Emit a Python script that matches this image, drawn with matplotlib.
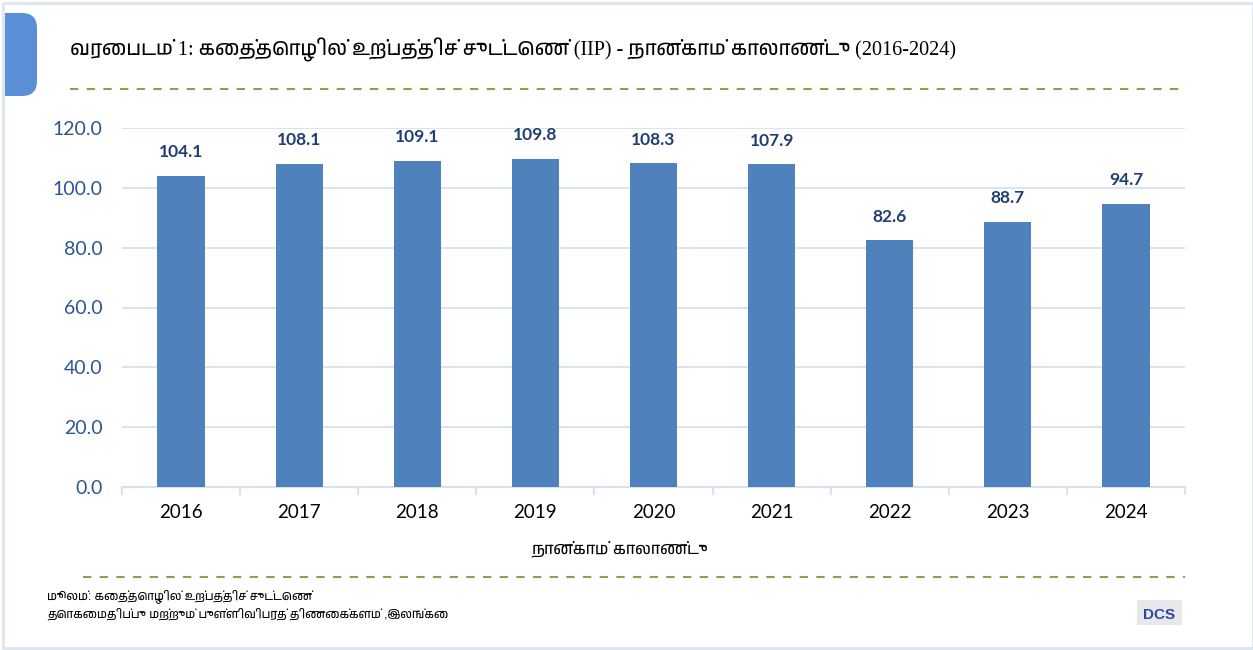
import matplotlib
matplotlib.use("Agg")
import matplotlib.pyplot as plt
from matplotlib import font_manager
from matplotlib.ft2font import FT2Font
from matplotlib.patches import FancyBboxPatch, Rectangle
from matplotlib.lines import Line2D

# Données
years = ["2016", "2017", "2018", "2019", "2020", "2021", "2022", "2023", "2024"]
iip = [104.1, 108.1, 109.1, 109.8, 108.3, 107.9, 82.6, 88.7, 94.7]
y_ticks = [0, 20, 40, 60, 80, 100, 120]

title = "வரைபடம் 1: கைத்தொழில் உற்பத்திச் சுட்டெண் (IIP) - நான்காம் காலாண்டு (2016-2024)"
x_label = "நான்காம் காலாண்டு"
source_1 = "மூலம்: கைத்தொழில் உற்பத்திச் சுட்டெண்"
source_2 = "தொகைமதிப்பு மற்றும் புள்ளிவிபரத் திணைக்களம் ,இலங்கை"

# Couleurs
bar_color = "#4F81BD"
grid_color = "#D6E2F0"
dash_color = "#8AA052"
ytick_color = "#2A5592"
label_color = "#1F3F73"


def tamil_family():
    # cherche une police avec les glyphes tamouls (pas mono de préférence)
    found = []
    for f in font_manager.fontManager.ttflist:
        try:
            if 0x0BB5 in FT2Font(f.fname).get_charmap():
                found.append(f.name)
        except Exception:
            pass
    if not found:
        return None
    found.sort(key=lambda n: ("Mono" in n, "Tamil" not in n, n))
    return found[0]


tam = tamil_family()
serif_fam = ["Liberation Serif", tam] if tam else ["Liberation Serif", "DejaVu Sans"]
sans_fam = ["Liberation Sans", tam] if tam else ["Liberation Sans", "DejaVu Sans"]

W, H = 1253, 650
fig = plt.figure(figsize=(W / 100, H / 100), dpi=100)


def fx(px):
    return px / W


def fy(py):
    return 1 - py / H


# cadre et onglet
fig.patches.append(Rectangle((fx(3), fy(H - 2)), fx(W - 3), fy(3) - fy(H - 2),
                             transform=fig.transFigure, fill=False,
                             edgecolor="#DCE6F2", lw=2))
fig.patches.append(FancyBboxPatch((fx(5), fy(96)), fx(32), fy(13) - fy(96),
                                  boxstyle="round,pad=0,rounding_size=0.012",
                                  transform=fig.transFigure,
                                  facecolor="#5A8FD6", edgecolor="none",
                                  mutation_aspect=W / H))
fig.patches.append(Rectangle((fx(5), fy(96)), fx(14), fy(13) - fy(96),
                             transform=fig.transFigure,
                             facecolor="#5A8FD6", edgecolor="none"))

fig.text(fx(70), fy(50), title, fontsize=14.5, family=serif_fam,
         va="center", ha="left", color="black")

for yy, x0 in [(89, 70), (577, 83)]:
    fig.lines.append(Line2D([fx(x0), fx(1185)], [fy(yy), fy(yy)],
                            transform=fig.transFigure, color=dash_color,
                            lw=1.5, linestyle=(0, (4, 4))))

ax = fig.add_axes([fx(122), fy(487), fx(1185) - fx(122), fy(128) - fy(487)])
x = list(range(len(years)))
bars = ax.bar(x, iip, width=0.4, color=bar_color, zorder=3)
ax.set_xlim(-0.5, len(years) - 0.5)
ax.set_ylim(0, 120)
ax.set_yticks(y_ticks)
ax.set_yticklabels([f"{v:.1f}" for v in y_ticks], fontsize=14,
                   family="Lato", color=ytick_color)
ax.set_xticks(x)
ax.set_xticklabels(years, fontsize=13.5, family="Lato", color="black")
ax.yaxis.grid(True, color=grid_color, lw=1.3, zorder=0)
for s in ["top", "right", "left"]:
    ax.spines[s].set_visible(False)
ax.spines["bottom"].set_color(grid_color)
ax.spines["bottom"].set_linewidth(1.5)
ax.tick_params(axis="y", length=0, pad=14)
ax.tick_params(axis="x", length=0, pad=12)
# petits traits entre les catégories
for b in [i - 0.5 for i in range(len(years) + 1)]:
    ax.plot([b, b], [0, -2.2], color=grid_color, lw=1.5, clip_on=False)

for xi, v in zip(x, iip):
    ax.annotate(f"{v:.1f}", (xi, v), xytext=(0, 11), textcoords="offset points",
                ha="center", va="bottom", fontsize=12.5, fontweight="bold",
                family="Lato", color=label_color)

fig.text(fx(620), fy(549), x_label, fontsize=11.5, family=sans_fam,
         ha="center", va="center")
fig.text(fx(47), fy(596), source_1, fontsize=8.5, family=sans_fam,
         ha="left", va="center")
fig.text(fx(47), fy(614), source_2, fontsize=8.5, family=sans_fam,
         ha="left", va="center")

# logo DCS
fig.patches.append(Rectangle((fx(1137), fy(625)), fx(45), fy(600) - fy(625),
                             transform=fig.transFigure, facecolor="#E8E8EC",
                             edgecolor="none"))
fig.text(fx(1159), fy(615), "DCS", fontsize=11, fontweight="bold",
         family="Liberation Sans", color="#2B4A9A", ha="center", va="center")

fig.savefig("out.png", dpi=100)
